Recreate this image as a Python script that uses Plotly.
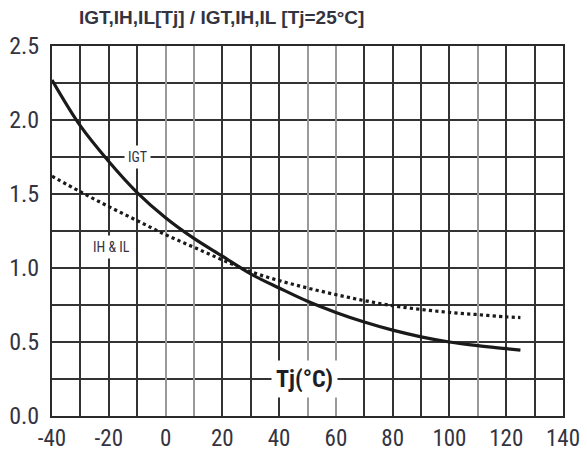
import plotly.graph_objects as go

# Data
tj = [-40, -30, -20, -10, 0, 10, 20, 30, 40, 50, 60, 70, 80, 90, 100, 110, 120, 125]
igt = [2.27, 1.96, 1.72, 1.51, 1.34, 1.20, 1.08, 0.96, 0.865, 0.775, 0.70, 0.635, 0.58, 0.535, 0.50, 0.475, 0.455, 0.445]
ih_il = [1.62, 1.515, 1.415, 1.32, 1.225, 1.14, 1.055, 0.975, 0.915, 0.865, 0.82, 0.78, 0.745, 0.72, 0.70, 0.685, 0.67, 0.665]

x_ticks = [-40, -20, 0, 20, 40, 60, 80, 100, 120, 140]
x_ticklabels = ["-40", "-20", "0", "20", "40", "60", "80", "100", "120", "140"]
y_ticks = [0.0, 0.5, 1.0, 1.5, 2.0, 2.5]
y_ticklabels = ["0.0", "0.5", "1.0", "1.5", "2.0", "2.5"]
x_grid_dark = [-30, -20, -10, 20, 30, 40, 70, 80, 90, 100, 120, 130]
x_grid_light = [0, 10, 50, 60, 110]
y_grid = [0.25, 0.5, 0.75, 1.0, 1.25, 1.5, 1.75, 2.0, 2.25]

title_text = "IGT,IH,IL[Tj] / IGT,IH,IL [Tj=25°C]"

NARROW = "Liberation Sans Narrow, Arial Narrow, Roboto Condensed, Liberation Sans, Arial, sans-serif"
TXT = "#33343f"

fig = go.Figure()
fig.add_trace(go.Scatter(x=tj, y=igt, mode="lines", name="IGT",
                         line=dict(color="#1a1a1a", width=3.2, shape="spline", smoothing=1.0),
                         showlegend=False, hoverinfo="skip"))
fig.add_trace(go.Scatter(x=tj, y=ih_il, mode="lines", name="IH & IL",
                         line=dict(color="#1a1a1a", width=3.2, dash="dot", shape="spline", smoothing=1.0),
                         showlegend=False, hoverinfo="skip"))

fig.update_layout(
    width=587, height=453,
    margin=dict(l=52, r=24, t=46, b=37, autoexpand=False),
    paper_bgcolor="white", plot_bgcolor="white",
    xaxis=dict(range=[-40, 140], tickmode="array", tickvals=x_ticks, ticktext=x_ticklabels,
               showgrid=False, zeroline=False, showline=True, mirror=True, automargin=False,
               linecolor="#2a2a2a", linewidth=2, ticks="", ticklabelstandoff=0,
               tickfont=dict(family=NARROW, size=23, color=TXT)),
    xaxis2=dict(range=[-40, 140], matches="x", overlaying="x", anchor="y", automargin=False,
                tickmode="array", tickvals=x_grid_dark, showticklabels=False,
                showgrid=True, gridcolor="#333333", gridwidth=1.6, zeroline=False, ticks=""),
    xaxis3=dict(range=[-40, 140], matches="x", overlaying="x", anchor="y", automargin=False,
                tickmode="array", tickvals=x_grid_light, showticklabels=False,
                showgrid=True, gridcolor="#9a9a9a", gridwidth=1.6, zeroline=False, ticks=""),
    yaxis=dict(range=[0, 2.5], tickmode="array", tickvals=y_ticks, ticktext=y_ticklabels,
               showgrid=False, zeroline=False, showline=True, mirror=True, automargin=False,
               linecolor="#2a2a2a", linewidth=2, ticks="", ticklabelstandoff=6,
               tickfont=dict(family=NARROW, size=24, color=TXT)),
    yaxis2=dict(range=[0, 2.5], matches="y", overlaying="y", anchor="x", automargin=False,
                tickmode="array", tickvals=y_grid, showticklabels=False,
                showgrid=True, gridcolor="#333333", gridwidth=1.6, zeroline=False, ticks=""),
)

# invisible traces so overlay axes are drawn
fig.add_trace(go.Scatter(x=[None], y=[None], xaxis="x2", yaxis="y", showlegend=False, hoverinfo="skip"))
fig.add_trace(go.Scatter(x=[None], y=[None], xaxis="x3", yaxis="y", showlegend=False, hoverinfo="skip"))
fig.add_trace(go.Scatter(x=[None], y=[None], xaxis="x", yaxis="y2", showlegend=False, hoverinfo="skip"))

fig.add_annotation(xref="paper", yref="paper", x=0, y=1, xanchor="left", yanchor="bottom",
                   align="left", xshift=25, yshift=16, text="<b>" + title_text + "</b>", showarrow=False,
                   font=dict(family="Liberation Sans, Arial, sans-serif", size=19, color=TXT))
fig.add_annotation(x=-10, y=1.75, text="IGT", showarrow=False, bgcolor="white",
                   font=dict(family=NARROW, size=14, color=TXT), borderpad=3)
fig.add_annotation(x=-19, y=1.14, text="IH & IL", showarrow=False, bgcolor="white",
                   font=dict(family=NARROW, size=14, color=TXT), borderpad=3)
fig.add_annotation(x=49, y=0.25, text="<b>Tj(°C)</b>", showarrow=False, bgcolor="white",
                   font=dict(family=NARROW, size=24, color="#1e1e28"), borderpad=4)

fig.write_html("out.html", config={"displayModeBar": False},
               post_script="document.body.style.margin='0';")
